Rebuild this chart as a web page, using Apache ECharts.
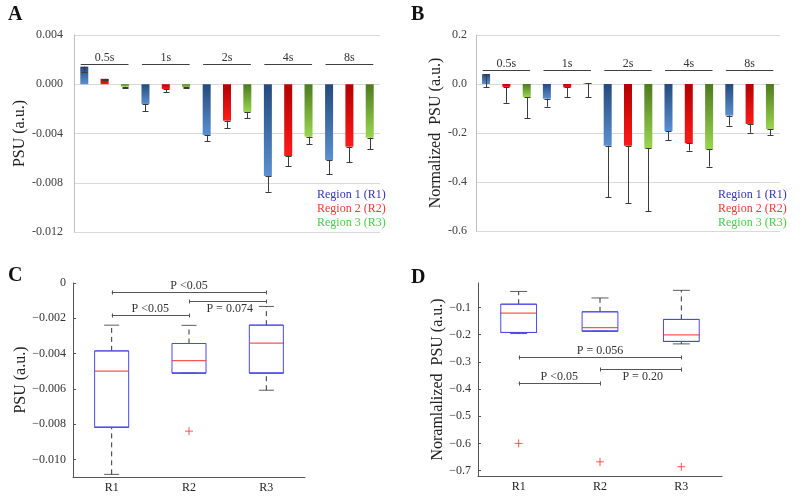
<!DOCTYPE html>
<html>
<head>
    <meta charset="utf-8">
    <title>PSU by region</title>
    <script src="https://cdn.jsdelivr.net/npm/echarts@6.0.0/dist/echarts.min.js"></script>
    <style>html, body { margin: 0; background: #fff; }</style>
</head>
<body>
    <div id="main" style="width: 800px;height:497px;"></div>
    <script type="text/javascript">
        var durations = ['0.5s', '1s', '2s', '4s', '8s'];
        var regions = ['Region 1 (R1)', 'Region 2 (R2)', 'Region 3 (R3)'];
        var boxCats = ['R1', 'R2', 'R3'];

        // panel A: PSU mean per duration, and size of the (minus) error bar
        var psuR1 = [0.00143, -0.0016, -0.00412, -0.00745, -0.00615];
        var psuR2 = [0.00044, -0.00039, -0.00296, -0.00583, -0.00507];
        var psuR3 = [-0.0002, -0.00025, -0.00228, -0.00426, -0.00434];
        var psuErrR1 = [0.0004, 0.00057, 0.00052, 0.00128, 0.00114];
        var psuErrR2 = [0.0001, 0.00027, 0.00062, 0.00081, 0.00127];
        var psuErrR3 = [0.00007, 0.00008, 0.00046, 0.00059, 0.00092];
        var psuGroupLevel = 0.00164;

        // panel B: normalized PSU
        var normR1 = [0.04, -0.06, -0.252, -0.192, -0.129];
        var normR2 = [-0.012, -0.014, -0.252, -0.242, -0.163];
        var normR3 = [-0.054, 0.003, -0.263, -0.267, -0.184];
        var normErrR1 = [0.054, 0.033, 0.21, 0.037, 0.041];
        var normErrR2 = [0.065, 0.039, 0.235, 0.03, 0.036];
        var normErrR3 = [0.086, 0.057, 0.257, 0.07, 0.024];
        var normGroupLevel = 0.057;

        // panel C: box stats [lower whisker, Q1, median, Q3, upper whisker]
        var psuBoxR1 = [-0.01085, -0.00818, -0.0050, -0.00385, -0.00239];
        var psuBoxR2 = [-0.00511, -0.00511, -0.0044, -0.00343, -0.0024];
        var psuBoxR3 = [-0.00608, -0.00511, -0.00341, -0.00239, -0.00133];
        var psuOutliers = [[1, -0.0084]];
        var psuTicks = [-0.010, -0.008, -0.006, -0.004, -0.002, 0];
        var psuSigPairs = [[0, 2], [1, 2], [0, 1]];
        var psuSigLevels = [-0.00053, -0.00104, -0.00182];
        var psuSigLabels = ['P <0.05', 'P = 0.074', 'P <0.05'];

        // panel D
        var normBoxR1 = [-0.196, -0.192, -0.121, -0.088, -0.041];
        var normBoxR2 = [-0.187, -0.187, -0.174, -0.116, -0.065];
        var normBoxR3 = [-0.234, -0.225, -0.201, -0.144, -0.037];
        var normOutliers = [[0, -0.6], [1, -0.668], [2, -0.686]];
        var normTicks = [-0.7, -0.6, -0.5, -0.4, -0.3, -0.2, -0.1];
        var normSigPairs = [[0, 2], [1, 2], [0, 1]];
        var normSigLevels = [-0.282, -0.328, -0.379];
        var normSigLabels = ['P = 0.056', 'P = 0.20', 'P <0.05'];
        var sigBelow = [false, true, false];   // which p-value text sits under its line

        var serif = 'Liberation Serif';
        var BAR_W = 8, BAR_GAP = 1.54;
        var barColors = [['#244a7c', '#5b8fd0'], ['#b30000', '#ff1a1a'], ['#4d7a1f', '#9ad650']];
        var legendColors = ['#3434b4', '#e83a35', '#4ccc48'];

        var myChart = echarts.init(document.getElementById('main'));

        function px(v) { return Math.round(v) + 0.5; }

        function barSeries(data, k, axis) {
            return {
                type: 'bar', name: regions[k], xAxisIndex: axis, yAxisIndex: axis,
                data: data, barWidth: BAR_W, barGap: (BAR_GAP * 100) + '%', z: 2,
                itemStyle: {
                    color: new echarts.graphic.LinearGradient(0, 0, 0, 1, [
                        { offset: 0, color: barColors[k][0] },
                        { offset: 1, color: barColors[k][1] }
                    ])
                }
            };
        }

        // [duration index, mean, low end, region]
        function errData(means, errs) {
            var out = [];
            means.forEach(function (m, k) {
                m.forEach(function (v, i) { out.push([i, v, v - errs[k][i], k]); });
            });
            return out;
        }

        function errorBarItem(params, api) {
            var k = api.value(3);
            var a = api.coord([api.value(0), api.value(1)]);
            var b = api.coord([api.value(0), api.value(2)]);
            var x = px(a[0] + (k - 1) * BAR_W * (1 + BAR_GAP));
            return {
                type: 'group', children: [
                    { type: 'line', shape: { x1: x, y1: a[1], x2: x, y2: b[1] }, style: { stroke: '#3a3a3a', lineWidth: 1 } },
                    { type: 'line', shape: { x1: x - 3, y1: px(b[1]), x2: x + 3, y2: px(b[1]) }, style: { stroke: '#3a3a3a', lineWidth: 1 } },
                    { type: 'line', shape: { x1: x - 3, y1: px(a[1]), x2: x + 3, y2: px(a[1]) }, style: { stroke: '#3a3a3a', lineWidth: 1 } }
                ]
            };
        }

        function groupLabelItem(params, api) {
            var c = api.coord([api.value(0), api.value(1)]);
            var half = api.size([1, 0])[0] * 0.39;
            var y = px(c[1]);
            return {
                type: 'group', children: [
                    { type: 'line', shape: { x1: c[0] - half, y1: y, x2: c[0] + half, y2: y },
                      style: { stroke: '#404040', lineWidth: 1 } },
                    { type: 'text', style: { text: durations[params.dataIndex], x: c[0], y: y - 1,
                      align: 'center', verticalAlign: 'bottom', fontFamily: serif, fontSize: 12, fill: '#333' } }
                ]
            };
        }

        // [from, to, level, index]
        function sigData(pairs, levels) {
            return pairs.map(function (p, i) { return [p[0], p[1], levels[i], i]; });
        }

        function sigItem(labels) {
            return function (params, api) {
                var a = api.coord([api.value(0), api.value(2)]);
                var b = api.coord([api.value(1), api.value(2)]);
                var y = px(a[1]);
                var i = api.value(3);
                var below = sigBelow[i];
                return {
                    type: 'group', children: [
                        { type: 'line', shape: { x1: a[0], y1: y, x2: b[0], y2: y }, style: { stroke: '#555', lineWidth: 1 } },
                        { type: 'line', shape: { x1: px(a[0]), y1: y - 2, x2: px(a[0]), y2: y + 2 }, style: { stroke: '#555', lineWidth: 1 } },
                        { type: 'line', shape: { x1: px(b[0]), y1: y - 2, x2: px(b[0]), y2: y + 2 }, style: { stroke: '#555', lineWidth: 1 } },
                        { type: 'text', style: { text: labels[i], x: (a[0] + b[0]) / 2 + (below ? 2 : 0), y: below ? y + 1 : y - 1,
                          align: 'center', verticalAlign: below ? 'top' : 'bottom',
                          fontFamily: serif, fontSize: 12, fill: '#333' } }
                    ]
                };
            };
        }

        // box plots: box outline, dashed whiskers, caps and a red median, all from native series.
        // the boxplot's own median is parked on Q1 so only the red one shows
        function boxplotSeries(axis, boxes, medianWidth, capWidth) {
            var body = boxes.map(function (b) { return [b[1], b[1], b[1], b[3], b[3]]; });
            var whiskers = [], caps = [], medians = [];
            boxes.forEach(function (b, i) {
                whiskers.push([i, b[0]], [i, b[1]], [i, '-'], [i, b[3]], [i, b[4]], [i, '-']);
                caps.push([i, b[0]], [i, b[4]]);
                medians.push([i, b[2]]);
            });
            return [
                { type: 'line', xAxisIndex: axis, yAxisIndex: axis, data: whiskers, z: 2,
                  symbol: 'none', connectNulls: false,
                  lineStyle: { color: '#333', width: 1, type: [5, 4] } },
                { type: 'scatter', xAxisIndex: axis, yAxisIndex: axis, data: caps, z: 3,
                  symbol: 'rect', symbolSize: [capWidth, 1], itemStyle: { color: '#333' } },
                { type: 'boxplot', xAxisIndex: axis, yAxisIndex: axis, data: body, z: 4,
                  boxWidth: ['44%', '44%'],
                  itemStyle: { color: 'transparent', borderColor: '#4a4ae8', borderWidth: 1 } },
                { type: 'scatter', xAxisIndex: axis, yAxisIndex: axis, data: medians, z: 5,
                  symbol: 'rect', symbolSize: [medianWidth, 1.3], itemStyle: { color: '#ff2a2a' } }
            ];
        }

        function outlierSeries(axis, data) {
            return { type: 'scatter', xAxisIndex: axis, yAxisIndex: axis, data: data,
                symbol: 'path://M0,5L10,5M5,0L5,10', symbolSize: 8,
                itemStyle: { color: 'transparent', borderColor: '#ff3030', borderWidth: 1 } };
        }

        function minusFmt(d) {
            return function (v) { return v === 0 ? '0' : '\u2212' + Math.abs(v).toFixed(d); };
        }

        function excelAxis(grid, min, max, step, digits, name, gap, margin) {
            return {
                gridIndex: grid, type: 'value', min: min, max: max, interval: step,
                axisLine: { show: true, lineStyle: { color: '#bfbfbf' } },
                axisTick: { show: false },
                splitLine: { lineStyle: { color: '#d9d9d9' } },
                axisLabel: { formatter: function (v) { return v.toFixed(digits); },
                    fontFamily: serif, fontSize: 12, color: '#404040', margin: margin },
                name: name, nameLocation: 'middle', nameGap: gap,
                nameTextStyle: { fontFamily: serif, fontSize: 16, color: '#222' }
            };
        }

        function matlabAxis(grid, min, max, step, ticks, digits, name, gap) {
            return {
                gridIndex: grid, type: 'value', min: min, max: max,
                splitNumber: Math.round((max - min) / step), minInterval: step, maxInterval: step,
                axisLine: { show: true, lineStyle: { color: '#555' } },
                axisTick: { show: true, inside: true, length: 3, lineStyle: { color: '#555' }, customValues: ticks },
                splitLine: { show: false },
                axisLabel: { formatter: minusFmt(digits), customValues: ticks,
                    fontFamily: serif, fontSize: 12, color: '#333', margin: 7 },
                name: name, nameLocation: 'middle', nameGap: gap,
                nameTextStyle: { fontFamily: serif, fontSize: 16, color: '#222' }
            };
        }

        function boxXAxis(grid) {
            return {
                gridIndex: grid, type: 'category', data: boxCats,
                axisLine: { onZero: false, lineStyle: { color: '#555' } },
                axisTick: { show: false },
                axisLabel: { fontFamily: serif, fontSize: 12, color: '#222', margin: 5 }
            };
        }

        function legendAt(left) {
            return {
                orient: 'vertical', left: left, top: 188, padding: 0,
                itemWidth: 0, itemHeight: 14, itemGap: 0, icon: 'rect',
                selectedMode: false,
                textStyle: { fontFamily: serif, fontSize: 12 },
                data: regions.map(function (r, k) {
                    return { name: r, textStyle: { color: legendColors[k] } };
                })
            };
        }

        function panelTitle(text, left, top) {
            return { text: text, left: left, top: top, padding: 0,
                textStyle: { fontFamily: serif, fontSize: 20, fontWeight: 'bold', color: '#111' } };
        }

        var series = [
            barSeries(psuR1, 0, 0), barSeries(psuR2, 1, 0), barSeries(psuR3, 2, 0),
            barSeries(normR1, 0, 1), barSeries(normR2, 1, 1), barSeries(normR3, 2, 1),
            { type: 'custom', xAxisIndex: 0, yAxisIndex: 0, z: 3, renderItem: errorBarItem,
              encode: { x: 0, y: [1, 2] },
              data: errData([psuR1, psuR2, psuR3], [psuErrR1, psuErrR2, psuErrR3]) },
            { type: 'custom', xAxisIndex: 1, yAxisIndex: 1, z: 3, renderItem: errorBarItem,
              encode: { x: 0, y: [1, 2] },
              data: errData([normR1, normR2, normR3], [normErrR1, normErrR2, normErrR3]) },
            { type: 'custom', xAxisIndex: 0, yAxisIndex: 0, renderItem: groupLabelItem,
              encode: { x: 0, y: 1 },
              data: durations.map(function (d, i) { return [i, psuGroupLevel]; }) },
            { type: 'custom', xAxisIndex: 1, yAxisIndex: 1, renderItem: groupLabelItem,
              encode: { x: 0, y: 1 },
              data: durations.map(function (d, i) { return [i, normGroupLevel]; }) },
            outlierSeries(2, psuOutliers),
            outlierSeries(3, normOutliers),
            { type: 'custom', xAxisIndex: 2, yAxisIndex: 2, renderItem: sigItem(psuSigLabels),
              encode: { x: [0, 1], y: 2 },
              data: sigData(psuSigPairs, psuSigLevels) },
            { type: 'custom', xAxisIndex: 3, yAxisIndex: 3, renderItem: sigItem(normSigLabels),
              encode: { x: [0, 1], y: 2 },
              data: sigData(normSigPairs, normSigLevels) }
        ].concat(
            boxplotSeries(2, [psuBoxR1, psuBoxR2, psuBoxR3], 34, 15),
            boxplotSeries(3, [normBoxR1, normBoxR2, normBoxR3], 36, 17)
        );

        var option = {
            backgroundColor: '#fff',
            animation: false,
            title: [
                panelTitle('A', 8, 5), panelTitle('B', 411, 5),
                panelTitle('C', 8, 266), panelTitle('D', 411, 268)
            ],
            legend: [legendAt(312), legendAt(713)],
            grid: [
                { left: 74, top: 35, width: 306, height: 197 },
                { left: 476, top: 35, width: 304, height: 196 },
                { left: 73, top: 283, width: 232, height: 194 },
                { left: 478, top: 283, width: 244, height: 193 }
            ],
            xAxis: [
                { gridIndex: 0, type: 'category', data: durations, show: false },
                { gridIndex: 1, type: 'category', data: durations, show: false },
                boxXAxis(2), boxXAxis(3)
            ],
            yAxis: [
                excelAxis(0, -0.012, 0.004, 0.004, 3, 'PSU (a.u.)', 44, 11),
                excelAxis(1, -0.6, 0.2, 0.2, 1, 'Normalized  PSU (a.u.)', 29, 9),
                matlabAxis(2, -0.011, 0, 0.002, psuTicks, 3, 'PSU (a.u.)', 40),
                matlabAxis(3, -0.72, -0.01, 0.1, normTicks, 1, 'Noramlalized  PSU (a.u.)', 28)
            ],
            series: series
        };
        myChart.setOption(option);
    </script>
</body>
</html>
